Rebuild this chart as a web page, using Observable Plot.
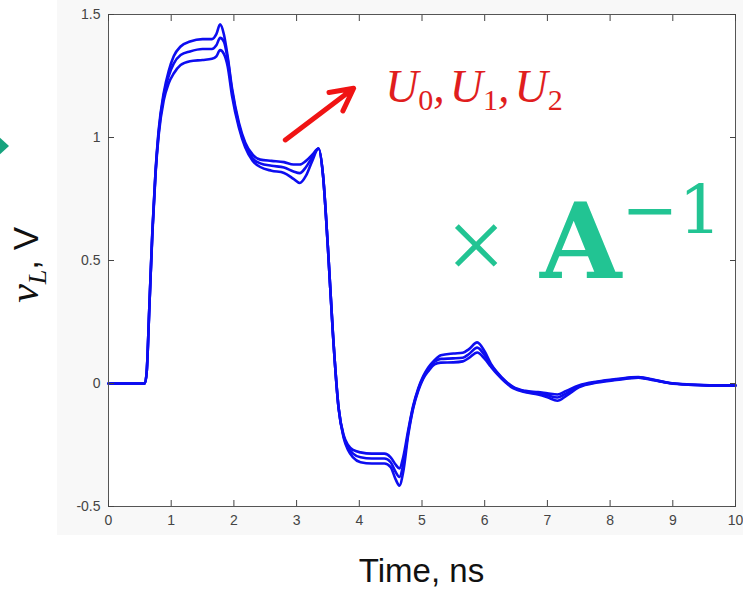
<!DOCTYPE html>
<html>
<head>
<meta charset="utf-8">
<script src="https://cdn.jsdelivr.net/npm/d3@7"></script>
<script src="https://cdn.jsdelivr.net/npm/@observablehq/plot@0.6"></script>
<style>
  html, body { margin: 0; padding: 0; background: #fff; }
  #chart { width: 743px; height: 590px; }
</style>
</head>
<body>
<div id="chart"></div>
<script>
// Sample times (ns)
const time = [0, 0.58, 0.61, 0.65, 0.70, 0.75, 0.80, 0.88, 0.96, 1.04, 1.15, 1.30, 1.50, 1.65, 1.72, 1.78, 1.84, 1.90, 1.97, 2.08,
  2.18, 2.30, 2.42, 2.60, 2.80, 2.95, 3.05, 3.15, 3.25, 3.35, 3.42, 3.50, 3.58, 3.67, 3.75, 3.82, 3.90, 4.02, 4.20, 4.40,
  4.50, 4.58, 4.64, 4.70, 4.78, 4.86, 4.94, 5.02, 5.10, 5.20, 5.30, 5.50, 5.65, 5.75, 5.88, 6.00, 6.10, 6.20, 6.33, 6.46,
  6.65, 6.85, 7.00, 7.16, 7.30, 7.50, 7.80, 8.10, 8.45, 8.70, 8.95, 9.30, 9.65, 10];

// Load voltage v_L (V) for the three responses
const u0 = [0, 0, 0.05, 0.30, 0.62, 0.86, 1.03, 1.18, 1.27, 1.33, 1.37, 1.39, 1.40, 1.40, 1.42, 1.46, 1.42, 1.33, 1.20, 1.06,
  0.98, 0.93, 0.91, 0.905, 0.90, 0.89, 0.89, 0.905, 0.93, 0.955, 0.85, 0.55, 0.20, -0.10, -0.21, -0.25, -0.27, -0.28, -0.285, -0.285,
  -0.30, -0.33, -0.345, -0.30, -0.19, -0.09, -0.02, 0.03, 0.065, 0.095, 0.115, 0.122, 0.125, 0.14, 0.167, 0.13, 0.08, 0.045, 0.01, -0.015,
  -0.03, -0.035, -0.04, -0.045, -0.03, -0.008, 0.008, 0.018, 0.026, 0.015, 0.002, -0.004, -0.007, -0.007];
const u1 = [0, 0, 0.05, 0.30, 0.62, 0.86, 1.02, 1.17, 1.25, 1.30, 1.335, 1.35, 1.36, 1.36, 1.375, 1.405, 1.39, 1.32, 1.19, 1.05,
  0.97, 0.915, 0.895, 0.885, 0.878, 0.862, 0.855, 0.88, 0.92, 0.955, 0.85, 0.55, 0.20, -0.10, -0.215, -0.26, -0.285, -0.30, -0.305, -0.305,
  -0.32, -0.36, -0.38, -0.33, -0.20, -0.095, -0.025, 0.025, 0.058, 0.088, 0.10, 0.102, 0.105, 0.12, 0.146, 0.115, 0.075, 0.042, 0.008, -0.017,
  -0.033, -0.04, -0.048, -0.057, -0.04, -0.012, 0.006, 0.016, 0.025, 0.014, 0.002, -0.005, -0.008, -0.008];
const u2 = [0, 0, 0.05, 0.30, 0.61, 0.85, 1.01, 1.15, 1.22, 1.26, 1.295, 1.31, 1.315, 1.32, 1.33, 1.355, 1.34, 1.29, 1.17, 1.04,
  0.96, 0.905, 0.88, 0.865, 0.856, 0.832, 0.815, 0.845, 0.905, 0.955, 0.85, 0.55, 0.20, -0.10, -0.22, -0.27, -0.30, -0.32, -0.325, -0.325,
  -0.34, -0.39, -0.415, -0.36, -0.21, -0.10, -0.03, 0.02, 0.05, 0.078, 0.085, 0.086, 0.09, 0.104, 0.126, 0.10, 0.068, 0.038, 0.005, -0.02,
  -0.036, -0.045, -0.056, -0.07, -0.05, -0.016, 0.004, 0.014, 0.024, 0.013, 0.001, -0.006, -0.009, -0.009];

const seriesNames = ["U0", "U1", "U2"];
const seriesValues = [u0, u1, u2];

const xTicks = [0, 1, 2, 3, 4, 5, 6, 7, 8, 9, 10];
const yTicks = [-0.5, 0, 0.5, 1, 1.5];

// Annotation arrow pointing toward the U labels (data units)
const arrowSpec = [{x1: 2.82, y1: 0.99, x2: 3.91, y2: 1.2}];

const rows = seriesNames.flatMap((name, k) =>
  seriesValues[k].map((v, i) => ({name, t: time[i], v})));

const plot = Plot.plot({
  width: 743,
  height: 590,
  marginLeft: 108,
  marginRight: 8,
  marginTop: 14,
  marginBottom: 84,
  style: {background: "transparent", fontFamily: "Liberation Sans, Arial, sans-serif"},
  x: {domain: [0, 10]},
  y: {domain: [-0.5, 1.5]},
  marks: [
    Plot.frame({fill: "white"}),
    Plot.line(rows, {x: "t", y: "v", z: "name", stroke: "#0d0df0", strokeWidth: 2.6, curve: "monotone-x"}),
    Plot.frame({stroke: "#555"}),
    Plot.axisX({anchor: "bottom", ticks: xTicks, tickSize: -6, tickPadding: 15, tickFormat: d => String(d),
      fontSize: 14, color: "#444", label: null}),
    Plot.axisX({anchor: "top", ticks: xTicks, tickSize: -6, tickFormat: () => "", color: "#444", label: null}),
    Plot.axisY({anchor: "left", ticks: yTicks, tickSize: -6, tickPadding: 14, tickFormat: d => String(d),
      fontSize: 14, color: "#444", label: null}),
    Plot.axisY({anchor: "right", ticks: yTicks, tickSize: -6, tickFormat: () => "", color: "#444", label: null}),
    Plot.arrow(arrowSpec, {x1: "x1", y1: "y1", x2: "x2", y2: "y2", stroke: "#f01414", strokeWidth: 5,
      headLength: 7.5, headAngle: 55})
  ]
});

const svg = d3.select(plot);
const sx = plot.scale("x"), sy = plot.scale("y");

// Figure backdrop behind the axes
svg.insert("rect", ":first-child")
  .attr("x", 57).attr("y", 0).attr("width", 686).attr("height", 535)
  .attr("fill", "#f8f8f8");

// Teal pointer at the left edge
svg.append("path")
  .attr("d", "M-5,133 L9,146 L-5,159 Z")
  .attr("fill", "#16a37e");

// Axis titles
svg.append("text")
  .attr("x", sx.apply(5)).attr("y", 582)
  .attr("text-anchor", "middle")
  .attr("font-family", "Liberation Sans, Arial, sans-serif")
  .attr("font-size", 33)
  .attr("fill", "#111")
  .text("Time, ns");

const yl = svg.append("text")
  .attr("transform", `translate(38,${sy.apply(0.48)}) rotate(-90)`)
  .attr("text-anchor", "middle")
  .attr("fill", "#111");
yl.append("tspan").attr("font-family", "Liberation Serif, serif").attr("font-style", "italic")
  .attr("font-size", 42).text("v");
yl.append("tspan").attr("font-family", "Liberation Serif, serif").attr("font-style", "italic")
  .attr("font-size", 26).attr("dy", 8).text("L");
yl.append("tspan").attr("font-family", "Liberation Sans, Arial, sans-serif")
  .attr("font-size", 35).attr("dy", -8).text(", V");

// Red series label U0, U1, U2
const ul = svg.append("text")
  .attr("x", sx.apply(4.42)).attr("y", sy.apply(1.142))
  .attr("text-anchor", "start")
  .attr("fill", "#e01e1e")
  .attr("font-family", "Liberation Serif, serif")
  .attr("font-style", "italic")
  .attr("font-size", 46);
["0", "1", "2"].forEach((d, i) => {
  ul.append("tspan").attr("dx", i === 0 ? 0 : 5).text("U");
  ul.append("tspan").attr("font-style", "normal").attr("font-size", 30).attr("dy", 8).text(d);
  if (i < 2) ul.append("tspan").attr("dy", -8).text(",");
});

// Green "× A⁻¹" annotation
const green = "#22c493";
svg.append("text")
  .attr("x", 476).attr("y", 280)
  .attr("text-anchor", "middle")
  .attr("font-family", "Liberation Serif, serif")
  .attr("font-size", 104)
  .attr("fill", green)
  .text("×");
const ga = svg.append("text")
  .attr("x", 540).attr("y", 278)
  .attr("text-anchor", "start")
  .attr("fill", green)
  .attr("font-family", "DejaVu Serif, serif");
ga.append("tspan").attr("font-weight", "bold").attr("font-size", 105).text("A");
ga.append("tspan").attr("font-size", 68).attr("dy", -45).text("−1");

document.getElementById("chart").append(plot);
</script>
</body>
</html>
